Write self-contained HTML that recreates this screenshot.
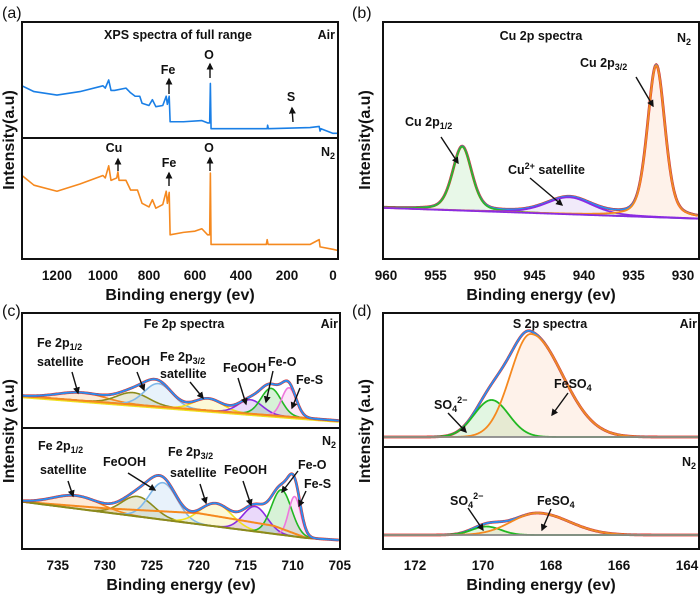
<!DOCTYPE html>
<html><head><meta charset="utf-8">
<style>
html,body{margin:0;padding:0;background:#fff;}
svg{display:block;font-family:"Liberation Sans",Arial,sans-serif;}
.lbl{font-weight:bold;font-size:12.5px;fill:#111;}
.tick{font-weight:bold;font-size:13.5px;fill:#111;}
.xt{font-weight:bold;font-size:16px;fill:#111;}
.pl{font-size:16px;fill:#111;}
</style></head>
<body>
<svg id="fig" width="700" height="596" viewBox="0 0 700 596" xmlns="http://www.w3.org/2000/svg">
<defs>
<marker id="ah" viewBox="0 0 10 10" refX="8" refY="5" markerWidth="5" markerHeight="5" orient="auto"><path d="M0,0 L10,5 L0,10 z" fill="#111"/></marker>
</defs>
<g id="layer"></g>
</svg>
<script>
// ---------- Panel (a) survey data ----------
const aAirE = [1352,1300,1200,1100,1000,990,975,965,950,900,880,860,840,830,800,785,770,740,725,720,712,708,650,570,545,536,533,530,400,286,284,281,100,60,56,52,0,-22];
const aAirI = [45,40,37,40,45,43,50,41,41,43,39,36,36,30,28,33,27,28,36,29,36,14,14,15,13,13,47,8,8,8,11,8,9,10,6,8,4,4];
const aN2E = [1352,1300,1200,1100,1000,990,975,965,940,935,930,900,880,850,830,800,785,770,740,725,720,712,708,650,600,570,545,536,533,530,290,286,282,100,60,56,0,-22];
const aN2I = [69,61,56,62,69,67,77,65,67,72,65,65,57,57,46,43,49,42,45,56,46,55,20,22,23,25,20,20,71,12,12,16,12,12,16,10,8,7];
const aTicks = [1200,1000,800,600,400,200,0];
// ---------- Panel (b) Cu 2p ----------
const bCenters = [952.3, 941.5, 932.7];
const bHeights = [64, 17, 152];
const bFwhm = [2.3, 5.5, 2.1];
const bTicks = [960,955,950,945,940,935,930];
// ---------- Panel (c) Fe 2p ----------
const cCenters = [732.5, 727.0, 724.3, 719.0, 714.5, 712.3, 710.4];
const cAirH = [8, 12, 23, 12, 14, 27, 29];
const cAirW = [6, 4, 3.5, 3.5, 3, 2.5, 1.8];
const cN2Centers = [733.0, 726.5, 723.8, 718.2, 714.0, 711.2, 709.8];
const cN2H = [13, 20, 37, 23, 25, 45, 40];
const cN2W = [6, 4, 3.5, 4, 3, 2.5, 1.5];
const cTicks = [735,730,725,720,715,710,705];
// ---------- Panel (d) S 2p ----------
const dCenters = [169.75, 168.6];
const dAirH = [37, 103];
const dAirWL = [1.2, 1.4];
const dAirWR = [1.2, 2.2];
const dN2Centers = [169.9, 168.4];
const dN2H = [8.5, 22];
const dN2WL = [1.0, 1.8];
const dN2WR = [1.0, 2.2];
const dTicks = [172,170,168,166,164];

const NS = "http://www.w3.org/2000/svg";
const layer = document.getElementById('layer');
function mk(tag, attrs, parent){ const e=document.createElementNS(NS,tag); for(const k in attrs) e.setAttribute(k,attrs[k]); (parent||layer).appendChild(e); return e; }
function gauss(E,c,h,f){ return h*Math.exp(-4*Math.LN2*(E-c)*(E-c)/(f*f)); }
function agauss(E,c,h,fl,fr){ return gauss(E,c,h,E>=c?fl:fr); }
function pv(E,c,h,f){ const g=Math.exp(-4*Math.LN2*(E-c)*(E-c)/(f*f)); const l=1/(1+4*(E-c)*(E-c)/(f*f)); return h*(0.65*g+0.35*l); }
function pathFrom(pts){ return pts.map((p,i)=>(i?'L':'M')+p[0].toFixed(2)+','+p[1].toFixed(2)).join(''); }
function text(x,y,str,cls,anchor,name){ const t=mk('text',{x:x,y:y,'class':cls,'text-anchor':anchor||'start'}); t.textContent=str;
  
  
  return t; }
function richText(x,y,parts,name,anchor){ const t=mk('text',{x:x,y:y,'class':'lbl','text-anchor':anchor||'start'});
  
  
  parts.forEach(p=>{ const s=document.createElementNS(NS,'tspan'); s.textContent=p[0];
    if(p[1]==='sub'){ s.setAttribute('font-size','9'); s.setAttribute('dy','3'); }
    if(p[1]==='sup'){ s.setAttribute('font-size','9'); s.setAttribute('dy','-5'); }
    if(p[1]==='back'){ s.setAttribute('font-size','9'); s.setAttribute('dy','-9'); }
    if(p[1]==='back2'){ s.setAttribute('dy','5'); }
    t.appendChild(s); });
  return t; }
function arrow(x1,y1,x2,y2,name){ const l=mk('line',{x1:x1,y1:y1,x2:x2,y2:y2,stroke:'#111','stroke-width':1.4,'marker-end':'url(#ah)'});
  
   }
function box(x,y,w,h,name){ const r=mk('rect',{x:x,y:y,width:w,height:h,fill:'none',stroke:'#111','stroke-width':2});
  
   }
function hline(x1,x2,y,name){ const l=mk('line',{x1:x1,x2:x2,y1:y,y2:y,stroke:'#111','stroke-width':2});
  
   }
function ytitle(x,y,str,name){ const t=mk('text',{x:0,y:0,'class':'xt','text-anchor':'middle',transform:'translate('+x+','+y+') rotate(-90)'}); t.textContent=str;
  
   }
function curve(pts,color,w,name){ const p=mk('path',{d:pathFrom(pts),fill:'none',stroke:color,'stroke-width':w,'stroke-linejoin':'round'});
  
   return p; }
function area(pts,base,color,name){ const d=pathFrom(pts.concat(base.slice().reverse()))+'Z'; const p=mk('path',{d:d,fill:color,'fill-opacity':0.18,stroke:'none'});
  
   }

// ================= Panel (a) =================
const xA = E => 22 + (1352-E)*0.23;
const yAt = v => 138 - v*1.16;
const yAb = v => 259 - v*1.21;
text(2,18,'(a)','pl','start','panel-label-a');
curve(aAirE.map((E,i)=>[xA(E),yAt(aAirI[i])]),'#1a7fe6',1.6,'air-survey-line');
curve(aN2E.map((E,i)=>[xA(E),yAb(aN2I[i])]),'#f5891f',1.6,'n2-survey-line');
box(22,22,316,237,'plot-frame-a'); hline(22,338,138,'divider-a');
aTicks.forEach(t=>text(xA(t),280,String(t),'tick','middle','x-tick-a'));
text(180,300,'Binding energy (ev)','xt','middle','x-axis-title-a');
ytitle(14,140,'Intensity(a.u)','y-axis-title-a');
text(178,39,'XPS spectra of full range','lbl','middle','title-a');
text(335,39,'Air','lbl','end','legend-air-a');
richText(321,156,[['N'],['2','sub']],'legend-n2-a');
text(168,74,'Fe','lbl','middle','label-fe-air'); arrow(169,94,169,79,'arrow-fe-air');
text(209,59,'O','lbl','middle','label-o-air'); arrow(210,78,210,64,'arrow-o-air');
text(291,101,'S','lbl','middle','label-s-air'); arrow(293,122,292,108,'arrow-s-air');
text(114,152,'Cu','lbl','middle','label-cu-n2'); arrow(118,171,118,159,'arrow-cu-n2');
text(169,167,'Fe','lbl','middle','label-fe-n2'); arrow(169,186,169,173,'arrow-fe-n2');
text(209,152,'O','lbl','middle','label-o-n2'); arrow(210,171,210,158,'arrow-o-n2');

// ================= Panel (b) =================
const xB = E => 383 + (960.3-E)*9.9;
const yBbase = E => 208 + (960-E)*0.34;
const yB = (E,I) => yBbase(E) - I;
text(352,18,'(b)','pl','start','panel-label-b');
const bCols = ['#2db52d','#8a2be2','#f5891f'];
const bFill = ['#7fd67f','#b08ae6','#f7b98a'];
const bNames = ['cu-2p12','cu-satellite','cu-2p32'];
const bE = []; for(let E=960.3;E>=928.4;E-=0.1) bE.push(E);
const bBase = bE.map(E=>[xB(E),yBbase(E)]);
bCenters.forEach((c,k)=>{ const pts=bE.map(E=>[xB(E),yB(E,pv(E,c,bHeights[k],bFwhm[k]))]); area(pts,bBase,bFill[k],bNames[k]+'-fill'); });
const bEnv = bE.map(E=>[xB(E),yB(E,bCenters.reduce((s,c,k)=>s+pv(E,c,bHeights[k],bFwhm[k]),0))]);
curve(bEnv,'#e8261c',2.8,'cu-raw-data');
curve(bEnv,'#2b8ef0',1.8,'cu-envelope');
bCenters.forEach((c,k)=>curve(bE.map(E=>[xB(E),yB(E,pv(E,c,bHeights[k],bFwhm[k]))]),bCols[k],1.8,bNames[k]+'-line'));
curve(bBase,'#8a2be2',1.8,'cu-baseline');
box(383,22,316,237,'plot-frame-b');
bTicks.forEach(t=>text(xB(t),280,String(t),'tick','middle','x-tick-b'));
text(541,300,'Binding energy (ev)','xt','middle','x-axis-title-b');
ytitle(370,140,'Intensity(a.u)','y-axis-title-b');
text(541,40,'Cu 2p spectra','lbl','middle','title-b');
richText(677,42,[['N'],['2','sub']],'legend-n2-b');
richText(580,67,[['Cu 2p'],['3/2','sub']],'label-cu-2p32');
arrow(636,77,653,106,'arrow-cu-2p32');
richText(405,126,[['Cu 2p'],['1/2','sub']],'label-cu-2p12');
arrow(441,137,458,163,'arrow-cu-2p12');
richText(508,174,[['Cu'],['2+','sup'],[' satellite','back2']],'label-cu-satellite');
arrow(530,178,562,205,'arrow-cu-satellite');

// ================= Panel (c) =================
const xC = E => 22 + (738.8-E)*9.4;
const cTopBase = E => 396 + (738.8-E)*0.73;
const cBotBase = E => E>708.5 ? 501.7 + (738.8-E)*1.2 : 538 + (708.5-E)*0.6;
const cBgE = [738.8,730,720,712,708.5,705];
const cBgOff = [0,4,11,8,0,0];
text(2,316,'(c)','pl','start','panel-label-c');
const cCols = ['#f5891f','#8b8b1a','#7fb8ea','#f0e020','#8a2be2','#22b822','#ee77dd'];
const cNames = ['fe-2p12-satellite','feooh-1','feooh-2','fe-2p32-satellite','feooh-3','fe-o','fe-s'];
const cE = []; for(let E=738.8;E>=705;E-=0.1) cE.push(E);
function interpOff(E){ for(let i=0;i<cBgE.length-1;i++){ if(E<=cBgE[i]&&E>=cBgE[i+1]){ const t=(cBgE[i]-E)/(cBgE[i]-cBgE[i+1]); return cBgOff[i]+t*(cBgOff[i+1]-cBgOff[i]); } } return 0; }
function drawFe(centers,H,W,baseF,tag,bgLines){
  const base = cE.map(E=>[xC(E),baseF(E)]);
  centers.forEach((c,k)=>{ const pts=cE.map(E=>[xC(E),baseF(E)-gauss(E,c,H[k],W[k])]); area(pts,base,cCols[k],tag+'-'+cNames[k]+'-fill'); });
  const env = cE.map(E=>[xC(E),baseF(E)-centers.reduce((s,c,k)=>s+gauss(E,c,H[k],W[k]),0)]);
  centers.forEach((c,k)=>curve(cE.map(E=>[xC(E),baseF(E)-gauss(E,c,H[k],W[k])]),cCols[k],1.6,tag+'-'+cNames[k]+'-line'));
  bgLines();
  curve(env,'#e8261c',2.8,tag+'-raw-data');
  curve(env,'#2b8ef0',1.9,tag+'-envelope');
}
drawFe(cCenters,cAirH,cAirW,cTopBase,'fe-air',()=>{
  curve(cE.map(E=>[xC(E),cTopBase(E)+1.5]),'#f0e020',1.5,'fe-air-bg-yellow');
  curve(cE.map(E=>[xC(E),cTopBase(E)]),'#f5891f',2,'fe-air-background');
});
drawFe(cN2Centers,cN2H,cN2W,cBotBase,'fe-n2',()=>{
  curve(cE.map(E=>[xC(E),cBotBase(E)-interpOff(E)]),'#f5891f',2,'fe-n2-shirley');
  curve(cE.map(E=>[xC(E),cBotBase(E)]),'#8b8b1a',2,'fe-n2-background');
});
box(22,313,318,236,'plot-frame-c'); hline(22,340,428,'divider-c');
cTicks.forEach(t=>text(xC(t),570,String(t),'tick','middle','x-tick-c'));
text(181,590,'Binding energy (ev)','xt','middle','x-axis-title-c');
ytitle(14,431,'Intensity (a.u)','y-axis-title-c');
text(184,328,'Fe 2p spectra','lbl','middle','title-c');
text(338,328,'Air','lbl','end','legend-air-c');
richText(322,445,[['N'],['2','sub']],'legend-n2-c');
richText(37,347,[['Fe 2p'],['1/2','sub']],'label-fe-2p12-air');
text(37,366,'satellite','lbl','start','label-satellite-air-1');
arrow(72,372,78,393,'arrow-fe-2p12-air');
text(107,365,'FeOOH','lbl','start','label-feooh-air-1'); arrow(137,372,144,390,'arrow-feooh-air-1');
richText(160,361,[['Fe 2p'],['3/2','sub']],'label-fe-2p32-air');
text(160,378,'satellite','lbl','start','label-satellite-air-2');
arrow(190,382,203,398,'arrow-fe-2p32-air');
text(223,372,'FeOOH','lbl','start','label-feooh-air-2'); arrow(238,378,246,404,'arrow-feooh-air-2');
text(268,366,'Fe-O','lbl','start','label-fe-o-air'); arrow(273,371,266,402,'arrow-fe-o-air');
text(296,384,'Fe-S','lbl','start','label-fe-s-air'); arrow(300,388,292,408,'arrow-fe-s-air');
richText(38,450,[['Fe 2p'],['1/2','sub']],'label-fe-2p12-n2');
text(40,474,'satellite','lbl','start','label-satellite-n2-1');
arrow(68,481,73,496,'arrow-fe-2p12-n2');
text(103,466,'FeOOH','lbl','start','label-feooh-n2-1'); arrow(128,473,155,490,'arrow-feooh-n2-1');
richText(168,456,[['Fe 2p'],['3/2','sub']],'label-fe-2p32-n2');
text(170,477,'satellite','lbl','start','label-satellite-n2-2');
arrow(200,484,206,503,'arrow-fe-2p32-n2');
text(224,474,'FeOOH','lbl','start','label-feooh-n2-2'); arrow(243,481,251,505,'arrow-feooh-n2-2');
text(298,469,'Fe-O','lbl','start','label-fe-o-n2'); arrow(298,471,282,492,'arrow-fe-o-n2');
text(304,488,'Fe-S','lbl','start','label-fe-s-n2'); arrow(306,491,299,506,'arrow-fe-s-n2');

// ================= Panel (d) =================
const xD = E => 383 + (172.94-E)*34;
const dTopBase = E => 437;
const dBotBase = E => 535;
text(352,316,'(d)','pl','start','panel-label-d');
const dCols = ['#22b822','#f5891f'];
const dFill = ['#5fce5f','#f7b98a'];
const dNames = ['so4','feso4'];
const dE = []; for(let E=172.94;E>=162.7;E-=0.02) dE.push(E);
function drawS(centers,H,WL,WR,baseF,tag){
  const base = dE.map(E=>[xD(E),baseF(E)]);
  centers.forEach((c,k)=>{ const pts=dE.map(E=>[xD(E),baseF(E)-agauss(E,c,H[k],WL[k],WR[k])]); area(pts,base,dFill[k],tag+'-'+dNames[k]+'-fill'); });
  const env = dE.map(E=>[xD(E),baseF(E)-centers.reduce((s,c,k)=>s+agauss(E,c,H[k],WL[k],WR[k]),0)]);
  curve(env,'#e8261c',2.8,tag+'-raw-data');
  curve(env,'#2b8ef0',1.9,tag+'-envelope');
  centers.forEach((c,k)=>curve(dE.map(E=>[xD(E),baseF(E)-agauss(E,c,H[k],WL[k],WR[k])]),dCols[k],1.8,tag+'-'+dNames[k]+'-line'));
  curve(base,'#888888',1.8,tag+'-baseline');
}
drawS(dCenters,dAirH,dAirWL,dAirWR,dTopBase,'s-air');
drawS(dN2Centers,dN2H,dN2WL,dN2WR,dBotBase,'s-n2');
box(383,313,316,236,'plot-frame-d'); hline(383,699,447,'divider-d');
dTicks.forEach(t=>text(xD(t),570,String(t),'tick','middle','x-tick-d'));
text(541,590,'Binding energy (ev)','xt','middle','x-axis-title-d');
ytitle(370,431,'Intensity (a.u)','y-axis-title-d');
text(550,328,'S 2p spectra','lbl','middle','title-d');
text(697,328,'Air','lbl','end','legend-air-d');
richText(682,466,[['N'],['2','sub']],'legend-n2-d');
richText(554,388,[['FeSO'],['4','sub']],'label-feso4-air'); arrow(568,393,552,415,'arrow-feso4-air');
richText(434,409,[['SO'],['4','sub'],['2−','back']],'label-so4-air'); arrow(448,413,466,432,'arrow-so4-air');
richText(450,505,[['SO'],['4','sub'],['2−','back']],'label-so4-n2'); arrow(468,508,483,530,'arrow-so4-n2');
richText(537,505,[['FeSO'],['4','sub']],'label-feso4-n2'); arrow(551,509,542,530,'arrow-feso4-n2');
</script>
</body></html>
